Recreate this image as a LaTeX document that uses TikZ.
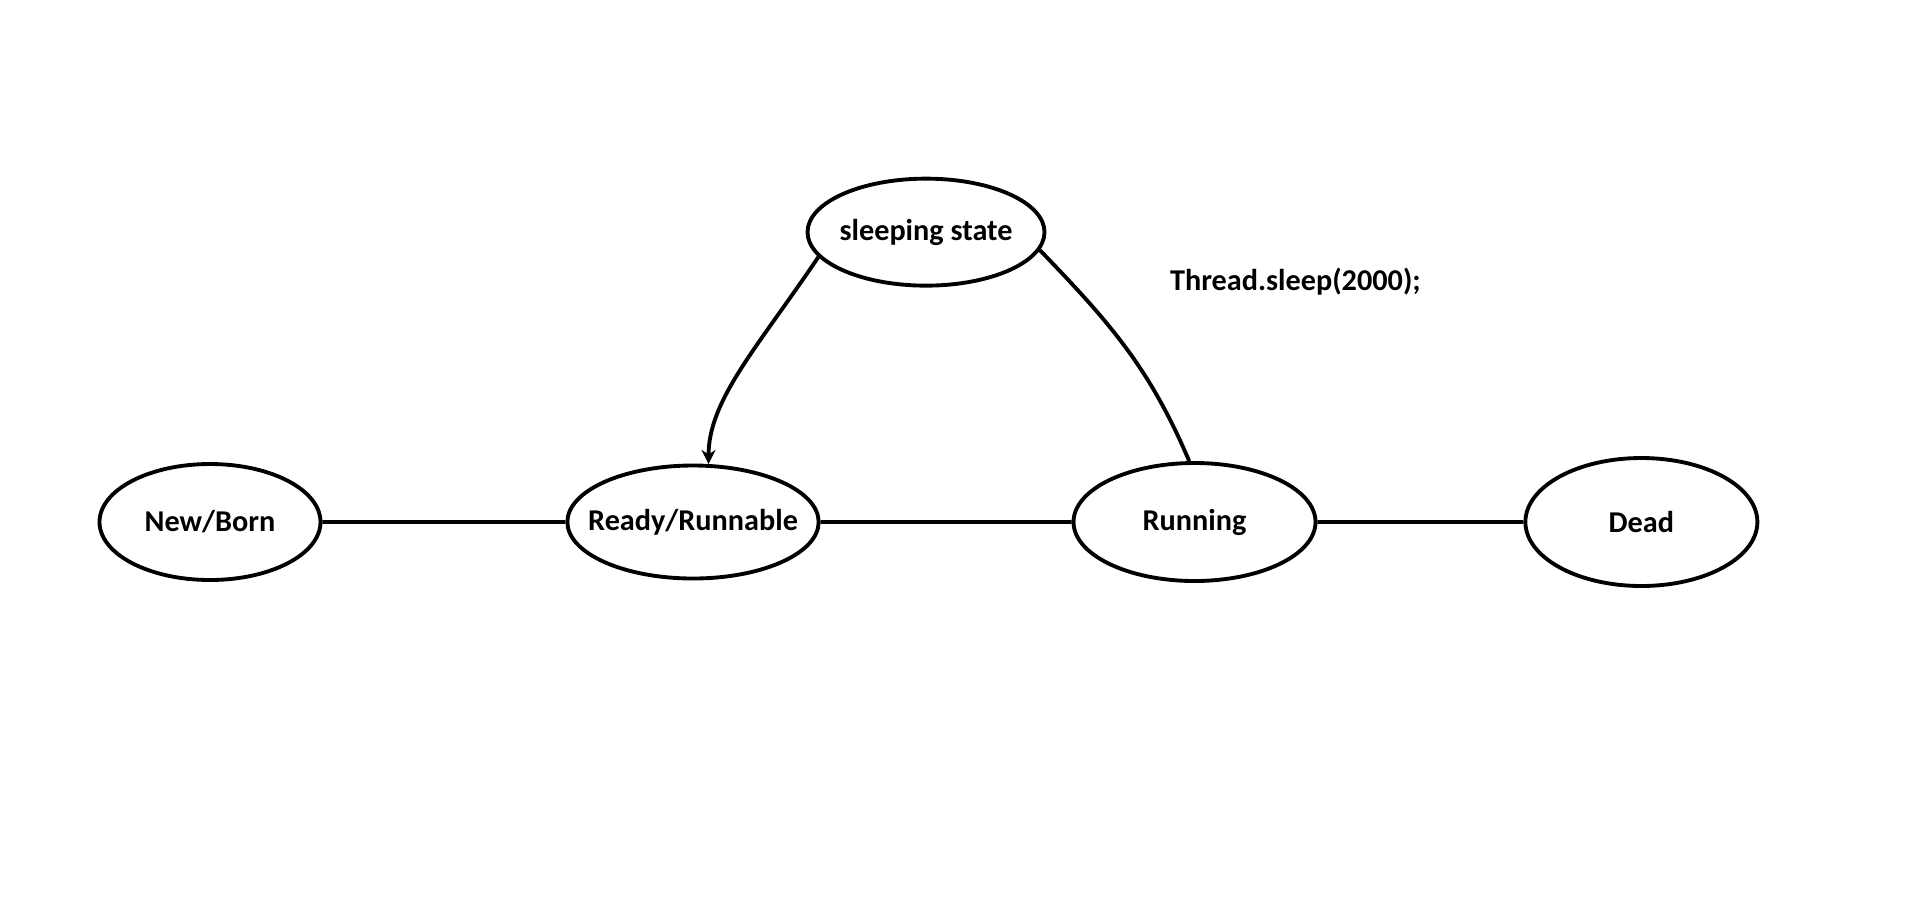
\documentclass[tikz,border=0pt]{standalone}
\usepackage{fontspec}
\setmainfont{Carlito}
\usetikzlibrary{arrows.meta,automata,positioning,shapes.geometric}

\begin{document}
\begin{tikzpicture}[
    every state/.style={
        draw,ellipse,
        line width=1.1pt,
        inner sep=0pt,
        align=center
    },
every node/.style={
        font=\fontsize{8.6pt}{10pt}\selectfont\bfseries
    },
    link/.style={line width=1.1pt},
    node distance=1.76cm and 2.43cm
]
\useasboundingbox (0,0) rectangle (19.13,-8.97);
\node[state, minimum width=2.21cm, minimum height=1.16cm] (born) at (2.10,-5.22) {New/Born};
\node[state, inner xsep=-0.16cm, minimum width=2.51cm, minimum height=1.13cm, right=2.43cm of born] (ready) {Ready/Runnable};
\node[state, minimum width=2.42cm, minimum height=1.18cm, right=2.51cm of ready] (running) {Running};
\node[state, minimum width=2.32cm, minimum height=1.28cm, right=2.06cm of running] (dead) {Dead};
\node[state, inner xsep=-0.03cm, minimum width=2.37cm, minimum height=1.07cm, above=1.76cm of ready, xshift=2.33cm] (sleep) {sleeping state};
\node[inner sep=0pt, right=1.23cm of sleep, yshift=-0.5cm] (call) {Thread.sleep(2000);};

\draw [link]
(born) -- (ready)
(ready) -- (running)
(running) -- (dead)
(sleep.351) to[out=-46,in=113] (running.95);
\draw [link, -{Stealth[length=4pt,width=4pt]}]
(sleep.193) to[out=236,in=90,out looseness=1.2,in looseness=0.7] (ready.75);
\end{tikzpicture}
\end{document}
